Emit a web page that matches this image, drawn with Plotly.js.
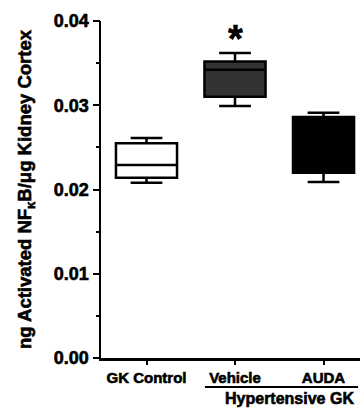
<!DOCTYPE html>
<html>
<head>
<meta charset="utf-8">
<script src="https://cdn.plot.ly/plotly-3.0.1.min.js"></script>
<style>
html,body{margin:0;padding:0;background:#fff;}
#chart{width:360px;height:409px;}
#chart svg text{stroke:#000;stroke-width:0.6px;}
</style>
</head>
<body>
<div id="chart"></div>
<script>
var categories = ["GK Control", "Vehicle", "AUDA"];
var lowerWhisker = [0.0208, 0.0299, 0.0209];
var q1Values = [0.0214, 0.0310, 0.0220];
var medianValues = [0.0229, 0.0342, 0.0224];
var q3Values = [0.0255, 0.0352, 0.0286];
var upperWhisker = [0.0261, 0.0362, 0.0291];
var fillColors = ["#ffffff", "#333333", "#000000"];
var yTickVals = [0, 0.01, 0.02, 0.03, 0.04];
var groupLabel = "Hypertensive GK";
var sigMark = "*";

var FONT = "Liberation Sans, Arial, sans-serif";
var traces = categories.map(function (c, i) {
  return {
    type: "box",
    x: [c],
    q1: [q1Values[i]],
    median: [medianValues[i]],
    q3: [q3Values[i]],
    lowerfence: [lowerWhisker[i]],
    upperfence: [upperWhisker[i]],
    fillcolor: fillColors[i],
    line: {color: "#000", width: 2.5},
    whiskerwidth: 0.52,
    width: 0.69,
    boxpoints: false,
    hoverinfo: "skip",
    showlegend: false
  };
});
var yMin = yTickVals[0], yMax = yTickVals[yTickVals.length - 1];
var yStep = yTickVals[1] - yTickVals[0];

var layout = {
  width: 360, height: 409,
  margin: {l: 101, r: 0, t: 21, b: 51},
  paper_bgcolor: "#fff", plot_bgcolor: "#fff",
  font: {family: FONT, color: "#000"},
  showlegend: false,
  xaxis: {
    type: "category",
    range: [-0.514, 2.412],
    showline: true, linecolor: "#000", linewidth: 2.5,
    ticks: "outside", ticklen: 4, tickwidth: 2, tickcolor: "#000",
    tickfont: {family: FONT, size: 15, weight: "bold", color: "#000"},
    showgrid: false, zeroline: false, fixedrange: true
  },
  yaxis: {
    range: [yMin, yMax],
    tickmode: "array",
    tickvals: yTickVals,
    tickformat: ".2f",
    showline: true, linecolor: "#000", linewidth: 2.5,
    ticks: "outside", ticklen: 6, tickwidth: 2, tickcolor: "#000",
    tickfont: {family: FONT, size: 18, weight: "bold", color: "#000"},
    showgrid: false, zeroline: false, fixedrange: true,
    title: {text: "ng Activated NF<sub>κ</sub>B/μg Kidney Cortex", font: {family: FONT, size: 18.5, weight: "bold", color: "#000"}, standoff: 18}
  },
  yaxis2: {
    overlaying: "y", side: "left", anchor: "x",
    range: [yMin, yMax],
    tickmode: "linear", tick0: yMin, dtick: yStep / 2,
    ticks: "outside", ticklen: 4, tickwidth: 2, tickcolor: "#000",
    showticklabels: false, showline: false, showgrid: false, zeroline: false, fixedrange: true
  },
  shapes: [{
    type: "line", xref: "x", yref: "paper",
    x0: 0.66, x1: 2.39, y0: -0.086, y1: -0.086,
    line: {color: "#000", width: 2}
  }],
  annotations: [{
    text: groupLabel, xref: "x", yref: "paper", x: 1.62, y: -0.119,
    showarrow: false, xanchor: "center", yanchor: "middle",
    font: {family: FONT, size: 16, weight: "bold", color: "#000"}
  }, {
    text: sigMark, xref: "x", yref: "y", x: 1, y: upperWhisker[1],
    showarrow: false, xanchor: "center", yanchor: "bottom", yshift: -9,
    font: {family: FONT, size: 38, weight: "bold", color: "#000"}
  }]
};

var minorTrace = {type: "scatter", x: [categories[0]], y: [yMin], yaxis: "y2", mode: "markers",
  marker: {opacity: 0}, hoverinfo: "skip", showlegend: false};
traces.push(minorTrace);

Plotly.newPlot("chart", traces, layout, {staticPlot: true, displayModeBar: false});
</script>
</body>
</html>
